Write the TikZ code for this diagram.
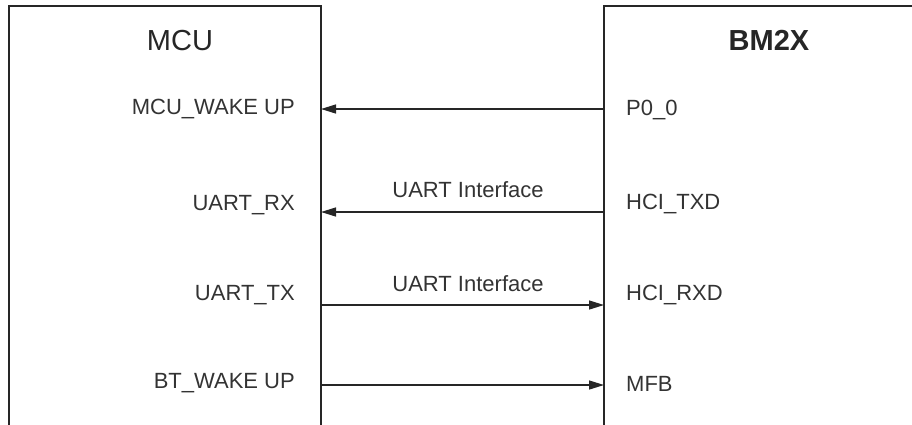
\documentclass[tikz,border=0pt]{standalone}
\usepackage{fontspec}
\setmainfont{Liberation Sans}
\usetikzlibrary{arrows.meta}
\begin{document}
\begin{tikzpicture}[x=1pt,y=-1pt,
  boxline/.style={draw=black!85,line width=1.4pt},
  sig/.style={draw=black!85,line width=1.4pt,-{Triangle[length=15pt,width=9pt]}},
  lbl/.style={font=\fontsize{22}{25}\selectfont,text=black!80,inner sep=0pt},
  ttl/.style={font=\fontsize{29}{33}\selectfont,text=black!85,inner sep=0pt,anchor=base}]
\useasboundingbox (0,0) rectangle (912,424);
\path[boxline] (9,440) -- (9,6) -- (321,6) -- (321,440);
\path[boxline] (604,440) -- (604,6) -- (930,6);
\node[ttl] (mcu) at (180,50) {MCU};
\node[ttl,font=\fontsize{29}{33}\selectfont\bfseries] (bm) at (769,50) {BM2X};
% left labels
\node[lbl,anchor=base east] (l1) at (295,114) {MCU\_WAKE UP};
\node[lbl,anchor=base east] (l2) at (295,210) {UART\_RX};
\node[lbl,anchor=base east] (l3) at (295,300) {UART\_TX};
\node[lbl,anchor=base east] (l4) at (295,388) {BT\_WAKE UP};
% right labels
\node[lbl,anchor=base west] (r1) at (626,115) {P0\_0};
\node[lbl,anchor=base west] (r2) at (626,209) {HCI\_TXD};
\node[lbl,anchor=base west] (r3) at (626,300) {HCI\_RXD};
\node[lbl,anchor=base west] (r4) at (626,391) {MFB};
% connector end points on box edges
\coordinate (a1) at (321,109); \coordinate (b1) at (604,109);
\coordinate (a2) at (321,212); \coordinate (b2) at (604,212);
\coordinate (a3) at (321,305); \coordinate (b3) at (604,305);
\coordinate (a4) at (321,385); \coordinate (b4) at (604,385);
\draw[sig] (b1) -- (a1);
\draw[sig] (b2) -- (a2);
\draw[sig] (a3) -- (b3);
\draw[sig] (a4) -- (b4);
\node[lbl,anchor=base] (u1) at (468,197) {UART Interface};
\node[lbl,anchor=base] (u2) at (468,291) {UART Interface};
\end{tikzpicture}
\end{document}
